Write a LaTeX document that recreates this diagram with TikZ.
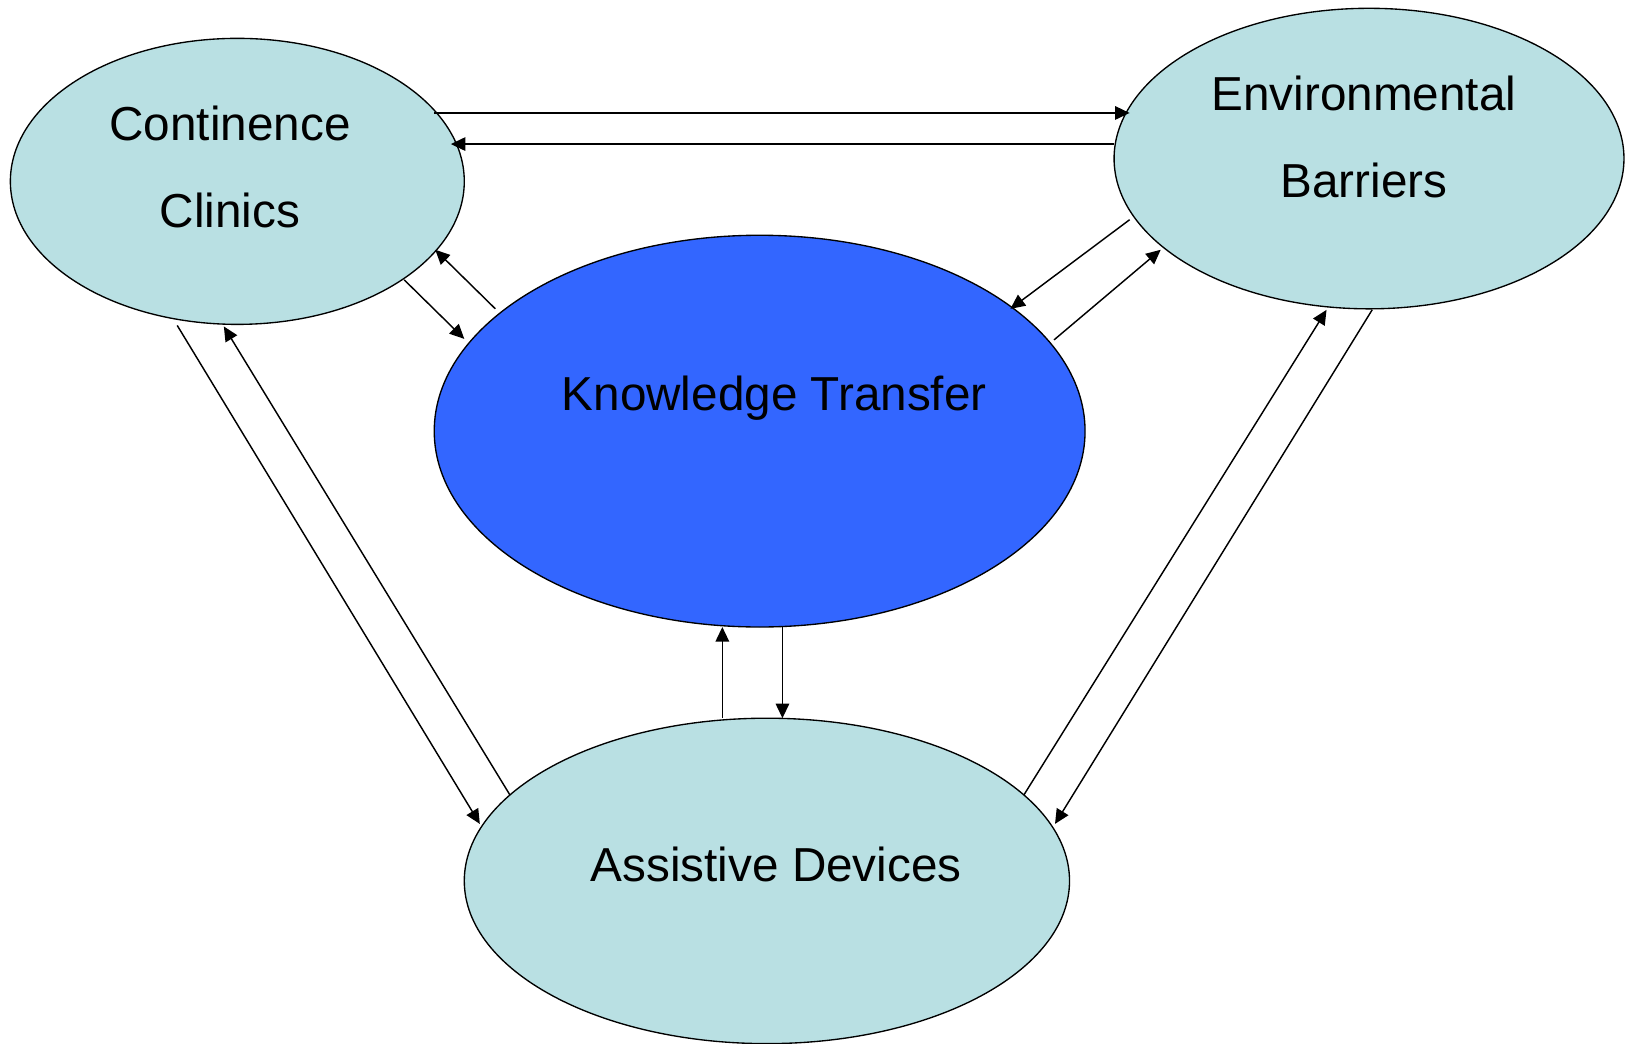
\documentclass[tikz,border=0pt]{standalone}
\usepackage{fontspec}
\setmainfont{Liberation Sans}
\usetikzlibrary{shapes.geometric,arrows.meta}
\definecolor{lightcyan}{RGB}{185,224,227}
\definecolor{ktblue}{RGB}{51,102,255}
\begin{document}
\begin{tikzpicture}[x=1pt,y=-1pt,
  oval/.style={ellipse,draw=black,line width=1.3pt,inner sep=0pt},
  lbl/.style={font=\fontsize{46}{84}\selectfont,align=center,inner sep=0pt},
  conn/.style={line width=1.4pt,-{Triangle[length=14pt,width=13pt]}}]
\useasboundingbox (0,0) rectangle (1568,1007);
% ellipses
\node[oval,fill=lightcyan,minimum width=438pt,minimum height=276pt] (cc) at (229,175) {};
\node[oval,fill=lightcyan,minimum width=492pt,minimum height=290pt] (eb) at (1321,153) {};
\node[oval,fill=ktblue,minimum width=628pt,minimum height=378pt] (kt) at (733,416) {};
\node[oval,fill=lightcyan,minimum width=584pt,minimum height=314pt] (ad) at (740,850) {};
% labels
\node[lbl] (cct) at (222,161) {Continence\\Clinics};
\node[lbl] (ebt) at (1316,132) {Environmental\\Barriers};
\node[lbl] (ktt) at (747,384) {Knowledge Transfer};
\node[lbl] (adt) at (749,834) {Assistive Devices};
% connector end points
\coordinate (a1) at (419,109);  \coordinate (b1) at (1090,109);
\coordinate (a2) at (1075,139); \coordinate (b2) at (435,139);
\coordinate (a3) at (478,298);  \coordinate (b3) at (420,241);
\coordinate (a4) at (390,270);  \coordinate (b4) at (448,327);
\coordinate (a5) at (1090,212); \coordinate (b5) at (975,298);
\coordinate (a6) at (1017,328); \coordinate (b6) at (1120,241);
\coordinate (a7) at (755,605);  \coordinate (b7) at (755,693);
\coordinate (a8) at (697,693);  \coordinate (b8) at (697,605);
\coordinate (a9) at (171,314);  \coordinate (b9) at (463,795);
\coordinate (a10) at (492,767); \coordinate (b10) at (216,315);
\coordinate (a11) at (988,767); \coordinate (b11) at (1280,299);
\coordinate (a12) at (1324,299);\coordinate (b12) at (1018,795);
\foreach \i in {1,...,12} {\draw[conn] (a\i) -- (b\i);}
\end{tikzpicture}
\end{document}
